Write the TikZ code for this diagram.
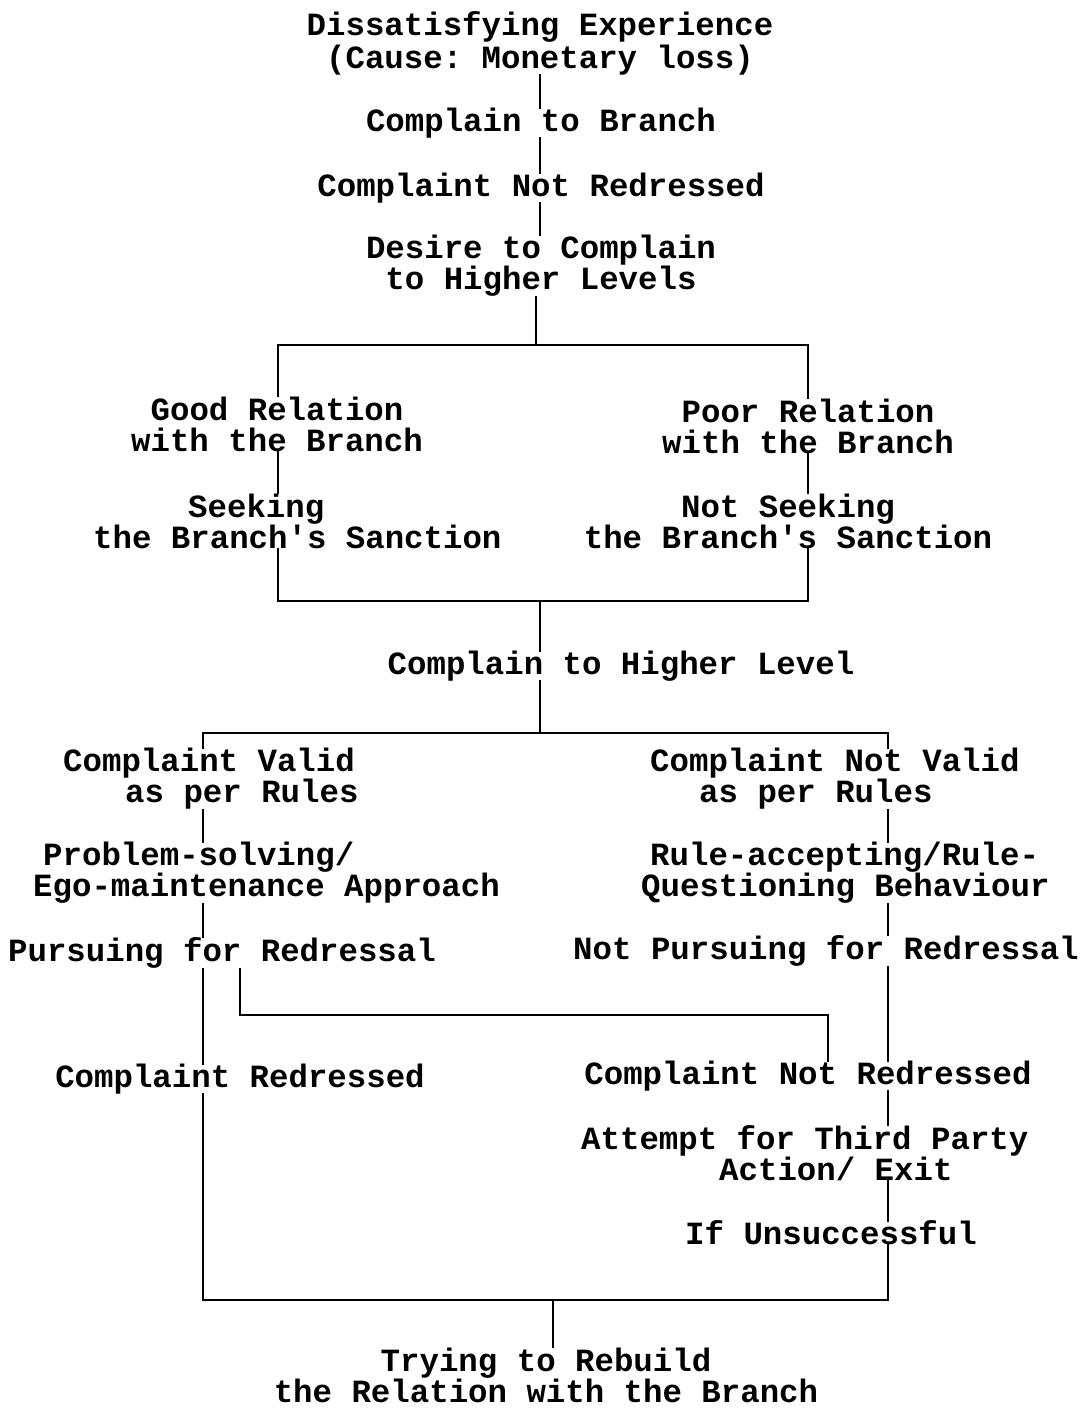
\documentclass[tikz,border=0pt]{standalone}
\usepackage{fontspec}
\setmonofont{Liberation Mono}
\begin{document}
\begin{tikzpicture}[x=1pt,y=-1pt,
  lbl/.style={font=\ttfamily\bfseries\frenchspacing\fontsize{32.4}{31}\selectfont, inner sep=0pt, align=center},
  lbll/.style={lbl, align=left, anchor=west},
  link/.style={line width=1.8pt, line cap=rect}]
\useasboundingbox (0,0) rectangle (1086,1409);
\fill[white] (0,0) rectangle (1086,1409);

% nodes
\node[lbl, font=\ttfamily\bfseries\frenchspacing\fontsize{32.4}{33}\selectfont] (dis) at (540,43) {Dissatisfying Experience\\(Cause: Monetary loss)};
\node[lbl] (cb) at (541,123) {Complain to Branch};
\node[lbl] (cnr1) at (541,188) {Complaint Not Redressed};
\node[lbl] (desire) at (541,266) {Desire to Complain\\to Higher Levels};
\node[lbl] (good) at (277,424) {Good Relation\\with the Branch};
\node[lbl] (poor) at (808,426) {Poor Relation\\with the Branch};
\node[lbll] (seek) at (93,521) {\hspace*{95pt}Seeking\\the Branch's Sanction};
\node[lbl] (nseek) at (788,521) {Not Seeking\\the Branch's Sanction};
\node[lbl] (chl) at (621,666) {Complain to Higher Level};
\node[lbll] (valid) at (63,779) {Complaint Valid\\\hspace*{62pt}as per Rules};
\node[lbll] (nvalid) at (650,779) {Complaint Not Valid\\\hspace*{49pt}as per Rules};
\node[lbll] (prob) at (33,873) {\hspace*{10pt}Problem-solving/\\Ego-maintenance Approach};
\node[lbll] (rule) at (641,873) {\hspace*{9pt}Rule-accepting/Rule-\\Questioning Behaviour};
\node[lbl] (pursue) at (222,953) {Pursuing for Redressal};
\node[lbl] (npursue) at (826,951) {Not Pursuing for Redressal};
\node[lbl] (cr) at (240,1079) {Complaint Redressed};
\node[lbl] (cnr2) at (808,1076) {Complaint Not Redressed};
\node[lbll] (attempt) at (581,1153) {Attempt for Third Party\\\hspace*{138pt}Action/ Exit};
\node[lbl] (unsucc) at (831,1233) {If Unsuccessful};
\node[lbl] (trying) at (546,1375) {Trying to Rebuild\\the Relation with the Branch};

% junction coordinates
\coordinate (sp) at (540,0);
\coordinate (s1) at (536,345);
\coordinate (s1l) at (278,345);
\coordinate (s1r) at (808,345);
\coordinate (j1l) at (278,601);
\coordinate (j1r) at (808,601);
\coordinate (j1) at (540,601);
\coordinate (s2) at (540,733);
\coordinate (s2l) at (203,733);
\coordinate (s2r) at (888,733);
\coordinate (j2l) at (203,1300);
\coordinate (j2r) at (888,1300);
\coordinate (j2) at (553,1300);
\coordinate (lp) at (240,0);
\coordinate (lpa) at (240,1015);
\coordinate (lpb) at (828,1015);

% connectors
\draw[link] (dis.south -| sp) -- (cb.north -| sp);
\draw[link] (cb.south -| sp) -- (cnr1.north -| sp);
\draw[link] (cnr1.south -| sp) -- (desire.north -| sp);
\draw[link] (desire.south -| s1) -- (s1);
\draw[link] (good.north -| s1l) -- (s1l) -- (s1r) -- (poor.north -| s1r);
\draw[link] (good.south -| s1l) -- (seek.north -| s1l);
\draw[link] (poor.south -| s1r) -- (nseek.north -| s1r);
\draw[link] (seek.south -| j1l) -- (j1l) -- (j1r) -- (nseek.south -| j1r);
\draw[link] (j1) -- (chl.north -| j1);
\draw[link] (chl.south -| s2) -- (s2);
\draw[link] (valid.north -| s2l) -- (s2l) -- (s2r) -- (nvalid.north -| s2r);
\draw[link] (valid.south -| s2l) -- (prob.north -| s2l);
\draw[link] (prob.south -| s2l) -- (pursue.north -| s2l);
\draw[link] (pursue.south -| s2l) -- (cr.north -| s2l);
\draw[link] (nvalid.south -| s2r) -- (rule.north -| s2r);
\draw[link] (rule.south -| s2r) -- (npursue.north -| s2r);
\draw[link] (npursue.south -| s2r) -- (cnr2.north -| s2r);
\draw[link] (cnr2.south -| s2r) -- (attempt.north -| s2r);
\draw[link] (attempt.south -| s2r) -- (unsucc.north -| s2r);
\draw[link] (pursue.south -| lp) -- (lpa) -- (lpb) -- (cnr2.north -| lpb);
\draw[link] (cr.south -| j2l) -- (j2l) -- (j2r) -- (unsucc.south -| j2r);
\draw[link] (j2) -- (trying.north -| j2);
\end{tikzpicture}
\end{document}
